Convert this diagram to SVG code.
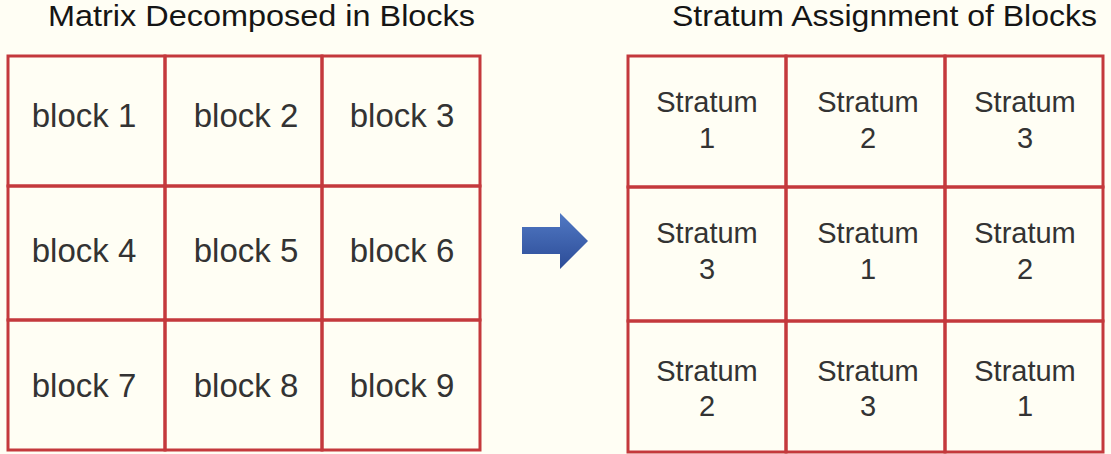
<svg xmlns="http://www.w3.org/2000/svg" width="1111" height="454" viewBox="0 0 1111 454">
<defs>
<style>
.cell{fill:none;stroke:#C4393C;stroke-width:3}
.t{font-family:"Liberation Sans",Arial,sans-serif;fill:#333333;text-anchor:middle}
.b{font-size:33px}
.s{font-size:29px}
.h{font-size:30px;fill:#151515}
</style>
<linearGradient id="ag" x1="0" y1="0" x2="0" y2="1">
<stop offset="0" stop-color="#5179C4"/>
<stop offset="1" stop-color="#2C4C97"/>
</linearGradient>
</defs>
<rect width="1111" height="454" fill="#FFFEF4"/>
<text class="t h" x="261.5" y="26" textLength="427" lengthAdjust="spacingAndGlyphs">Matrix Decomposed in Blocks</text>
<text class="t h" x="884.5" y="26" textLength="425" lengthAdjust="spacingAndGlyphs">Stratum Assignment of Blocks</text>
<g id="left">
<g id="b1"><rect class="cell" x="8" y="56" width="157" height="130"/><text class="t b" x="84" y="127">block 1</text></g>
<g id="b2"><rect class="cell" x="165" y="56" width="157" height="130"/><text class="t b" x="246" y="127">block 2</text></g>
<g id="b3"><rect class="cell" x="322" y="56" width="158" height="130"/><text class="t b" x="402" y="127">block 3</text></g>
<g id="b4"><rect class="cell" x="8" y="186" width="157" height="134"/><text class="t b" x="84" y="262">block 4</text></g>
<g id="b5"><rect class="cell" x="165" y="186" width="157" height="134"/><text class="t b" x="246" y="262">block 5</text></g>
<g id="b6"><rect class="cell" x="322" y="186" width="158" height="134"/><text class="t b" x="402" y="262">block 6</text></g>
<g id="b7"><rect class="cell" x="8" y="320" width="157" height="130"/><text class="t b" x="84" y="397">block 7</text></g>
<g id="b8"><rect class="cell" x="165" y="320" width="157" height="130"/><text class="t b" x="246" y="397">block 8</text></g>
<g id="b9"><rect class="cell" x="322" y="320" width="158" height="130"/><text class="t b" x="402" y="397">block 9</text></g>
</g>
<g id="connectors">
<path d="M522,227 H560 V213 L588,241 L560,269 V254 H522 Z" fill="url(#ag)"/>
</g>
<g id="right">
<g id="s1"><rect class="cell" x="628" y="56" width="158" height="131"/><text class="t s" x="707" y="112">Stratum</text><text class="t s" x="707" y="148">1</text></g>
<g id="s2"><rect class="cell" x="786" y="56" width="159" height="131"/><text class="t s" x="868" y="112">Stratum</text><text class="t s" x="868" y="148">2</text></g>
<g id="s3"><rect class="cell" x="945" y="56" width="158" height="131"/><text class="t s" x="1025" y="112">Stratum</text><text class="t s" x="1025" y="148">3</text></g>
<g id="s4"><rect class="cell" x="628" y="187" width="158" height="134"/><text class="t s" x="707" y="243">Stratum</text><text class="t s" x="707" y="279">3</text></g>
<g id="s5"><rect class="cell" x="786" y="187" width="159" height="134"/><text class="t s" x="868" y="243">Stratum</text><text class="t s" x="868" y="279">1</text></g>
<g id="s6"><rect class="cell" x="945" y="187" width="158" height="134"/><text class="t s" x="1025" y="243">Stratum</text><text class="t s" x="1025" y="279">2</text></g>
<g id="s7"><rect class="cell" x="628" y="321" width="158" height="131"/><text class="t s" x="707" y="381">Stratum</text><text class="t s" x="707" y="416">2</text></g>
<g id="s8"><rect class="cell" x="786" y="321" width="159" height="131"/><text class="t s" x="868" y="381">Stratum</text><text class="t s" x="868" y="416">3</text></g>
<g id="s9"><rect class="cell" x="945" y="321" width="158" height="131"/><text class="t s" x="1025" y="381">Stratum</text><text class="t s" x="1025" y="416">1</text></g>
</g>
</svg>
